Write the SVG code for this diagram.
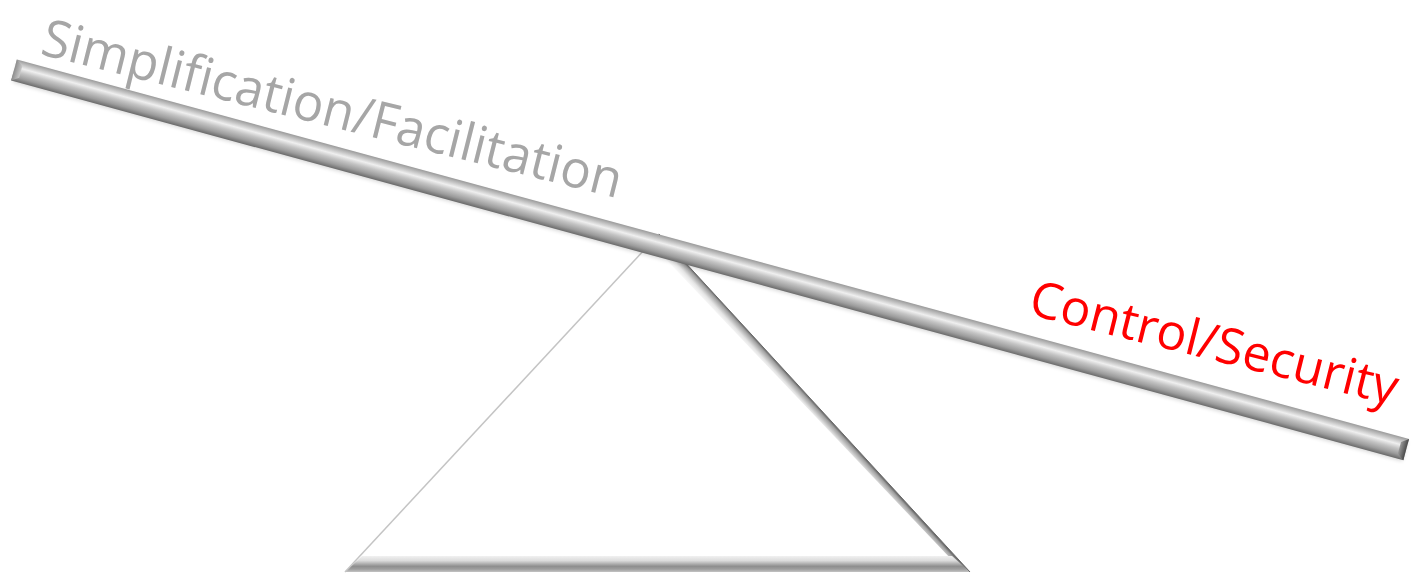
<svg xmlns="http://www.w3.org/2000/svg" width="1417" height="574" viewBox="0 0 1417 574">
<defs>
<linearGradient id="beamGrad" x1="0" y1="0" x2="0" y2="1">
<stop offset="0" stop-color="#9a9a9a"/>
<stop offset="0.12" stop-color="#b8b8b8"/>
<stop offset="0.35" stop-color="#efefef"/>
<stop offset="0.55" stop-color="#c4c4c4"/>
<stop offset="0.8" stop-color="#9c9c9c"/>
<stop offset="1" stop-color="#6a6a6a"/>
</linearGradient>
<linearGradient id="capL" x1="0" y1="0" x2="1" y2="0">
<stop offset="0" stop-color="#8c8c8c"/>
<stop offset="1" stop-color="#c8c8c8"/>
</linearGradient>
<linearGradient id="capR" x1="0" y1="0" x2="1" y2="0">
<stop offset="0" stop-color="#9a9a9a"/>
<stop offset="1" stop-color="#4a4a4a"/>
</linearGradient>
<linearGradient id="rightBevel" gradientUnits="userSpaceOnUse" x1="815" y1="404" x2="803" y2="415">
<stop offset="0" stop-color="#6a6a6a"/>
<stop offset="0.12" stop-color="#a0a0a0"/>
<stop offset="0.45" stop-color="#e4e4e4"/>
<stop offset="1" stop-color="#ffffff" stop-opacity="0"/>
</linearGradient>
<linearGradient id="baseBevel" gradientUnits="userSpaceOnUse" x1="0" y1="553" x2="0" y2="572">
<stop offset="0" stop-color="#ffffff"/>
<stop offset="0.4" stop-color="#dcdcdc"/>
<stop offset="0.7" stop-color="#8e8e8e"/>
<stop offset="0.85" stop-color="#9e9e9e"/>
<stop offset="1" stop-color="#c4c4c4"/>
</linearGradient>
<filter id="soft" x="-5%" y="-50%" width="110%" height="200%">
<feGaussianBlur stdDeviation="2"/>
</filter>
</defs>
<style>
.lbl { font-family: "Open Sans", "Noto Sans", "Liberation Sans", sans-serif; font-size: 52px; }
.lbl-r { font-family: "Open Sans", "Noto Sans", "Liberation Sans", sans-serif; font-size: 50px; }
</style>
<g id="fulcrum">
<polygon points="659,234 345,572 970,572" fill="#ffffff"/>
<polygon points="659,234 970,572 952,560 659,252" fill="url(#rightBevel)"/>
<polygon points="345,572 970,572 952,556 362,556" fill="url(#baseBevel)"/>
<line x1="659" y1="234" x2="345" y2="572" stroke="#c4c4c4" stroke-width="1.5"/>
<line x1="659" y1="234" x2="970" y2="572" stroke="#6a6a6a" stroke-width="1"/>
</g>
<g id="beam" transform="translate(14,70) rotate(15.25)">
<rect x="2" y="-8" width="1440" height="20" fill="#000" opacity="0.18" filter="url(#soft)"/>
<rect x="0" y="-11" width="1443" height="22" fill="url(#beamGrad)"/>
<polygon points="0,-11 7,-6 7,6 0,11" fill="url(#capL)"/>
<polygon points="1443,-11 1436,-6 1436,6 1443,11" fill="url(#capR)"/>
</g>
<g id="label-left">
<text class="lbl" fill="#a6a6a6" transform="translate(39,54) rotate(14)" textLength="596" lengthAdjust="spacingAndGlyphs">Simplification/Facilitation</text>
</g>
<g id="label-right">
<text class="lbl-r" fill="#ff0000" transform="translate(1027,314) rotate(14)">Control/Security</text>
</g>
</svg>
